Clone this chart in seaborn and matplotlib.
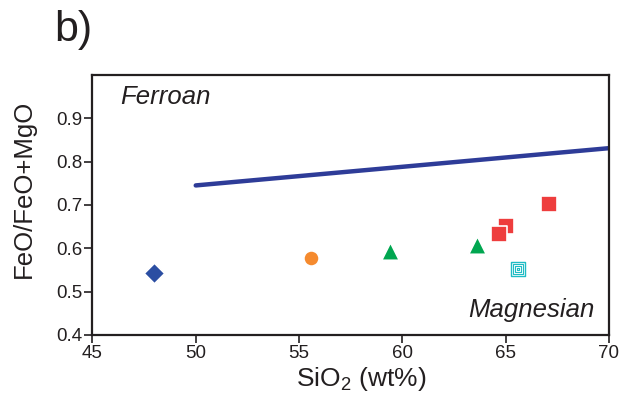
import matplotlib
matplotlib.use("Agg")
import matplotlib.pyplot as plt
import seaborn as sns
import pandas as pd

# Data
groups = ["diamond", "circle", "triangle", "triangle", "square", "square", "square", "concentric"]
sio2 = [48.0, 55.6, 59.4, 63.6, 65.0, 64.7, 67.1, 65.6]
fe_index = [0.544, 0.577, 0.594, 0.608, 0.651, 0.633, 0.702, 0.553]
boundary_sio2 = [50, 60, 70]
boundary_fe = [0.745, 0.788, 0.831]
xticks = [45, 50, 55, 60, 65, 70]
yticks = [0.4, 0.5, 0.6, 0.7, 0.8, 0.9]

sns.set_theme(style="white")
plt.rcParams["font.family"] = ["Liberation Sans", "DejaVu Sans"]
plt.rcParams["mathtext.fontset"] = "custom"
plt.rcParams["mathtext.rm"] = "Liberation Sans"
plt.rcParams["mathtext.it"] = "Liberation Sans:italic"

ink = "#231f20"
fig = plt.figure(figsize=(6.33, 4.03), dpi=100)
ax = fig.add_axes([0.146, 0.169, 0.816, 0.645])

df = pd.DataFrame({"SiO2": sio2, "Fe": fe_index, "group": groups})
bd = pd.DataFrame({"SiO2": boundary_sio2, "Fe": boundary_fe})

sns.lineplot(data=bd, x="SiO2", y="Fe", ax=ax, color="#2e3c98", linewidth=3.2,
             solid_capstyle="round", zorder=2)

colors = {"diamond": "#2b4ea2", "circle": "#f58a2e", "triangle": "#00a650",
          "square": "#ee3d3d", "concentric": "#1fbcc4"}
markers = {"diamond": "D", "circle": "o", "triangle": "^", "square": "s"}
sizes = {"diamond": 110, "circle": 120, "triangle": 160, "square": 135}

for g in ["diamond", "circle", "triangle", "square"]:
    sub = df[df.group == g]
    sns.scatterplot(data=sub, x="SiO2", y="Fe", ax=ax, marker=markers[g],
                    color=colors[g], s=sizes[g], edgecolor="white",
                    linewidth=1.2, zorder=3, legend=False)

sub = df[df.group == "concentric"]
for s, lw in [(112, 1.0), (52, 0.8), (16, 0.8), (2, 0.8)]:
    sns.scatterplot(data=sub, x="SiO2", y="Fe", ax=ax, marker="s",
                    color="white", edgecolor=colors["concentric"], s=s,
                    linewidth=lw, zorder=4, legend=False)

ax.set_xlim(45, 70)
ax.set_ylim(0.4, 1.0)
ax.set_xticks(xticks)
ax.set_yticks(yticks)
ax.set_xticklabels([str(t) for t in xticks])
ax.set_yticklabels([f"{t:.1f}" for t in yticks])
ax.tick_params(axis="both", direction="out", length=5.5, width=1.2, color=ink,
               labelsize=13.5, labelcolor=ink, pad=2, bottom=True, left=True)
for sp in ax.spines.values():
    sp.set_linewidth(1.6)
    sp.set_color(ink)

ax.set_xlabel("SiO$_2$ (wt%)", fontsize=19, color=ink)
ax.xaxis.set_label_coords(0.52, -0.115, transform=ax.transAxes)
ax.xaxis.label.set_va("top")
ax.set_ylabel("FeO/FeO+MgO", fontsize=18.5, color=ink)
ax.yaxis.set_label_coords(-0.11, 0.56, transform=ax.transAxes)

ax.text(46.33, 0.933, "Ferroan", fontsize=18.5, style="italic", color=ink, va="baseline")
ax.text(69.32, 0.442, "Magnesian", fontsize=18.5, style="italic", color=ink,
        va="baseline", ha="right")

fig.text(0.085, 0.925, "b)", fontsize=31, color=ink, va="center")

fig.savefig("out.png", dpi=100)
